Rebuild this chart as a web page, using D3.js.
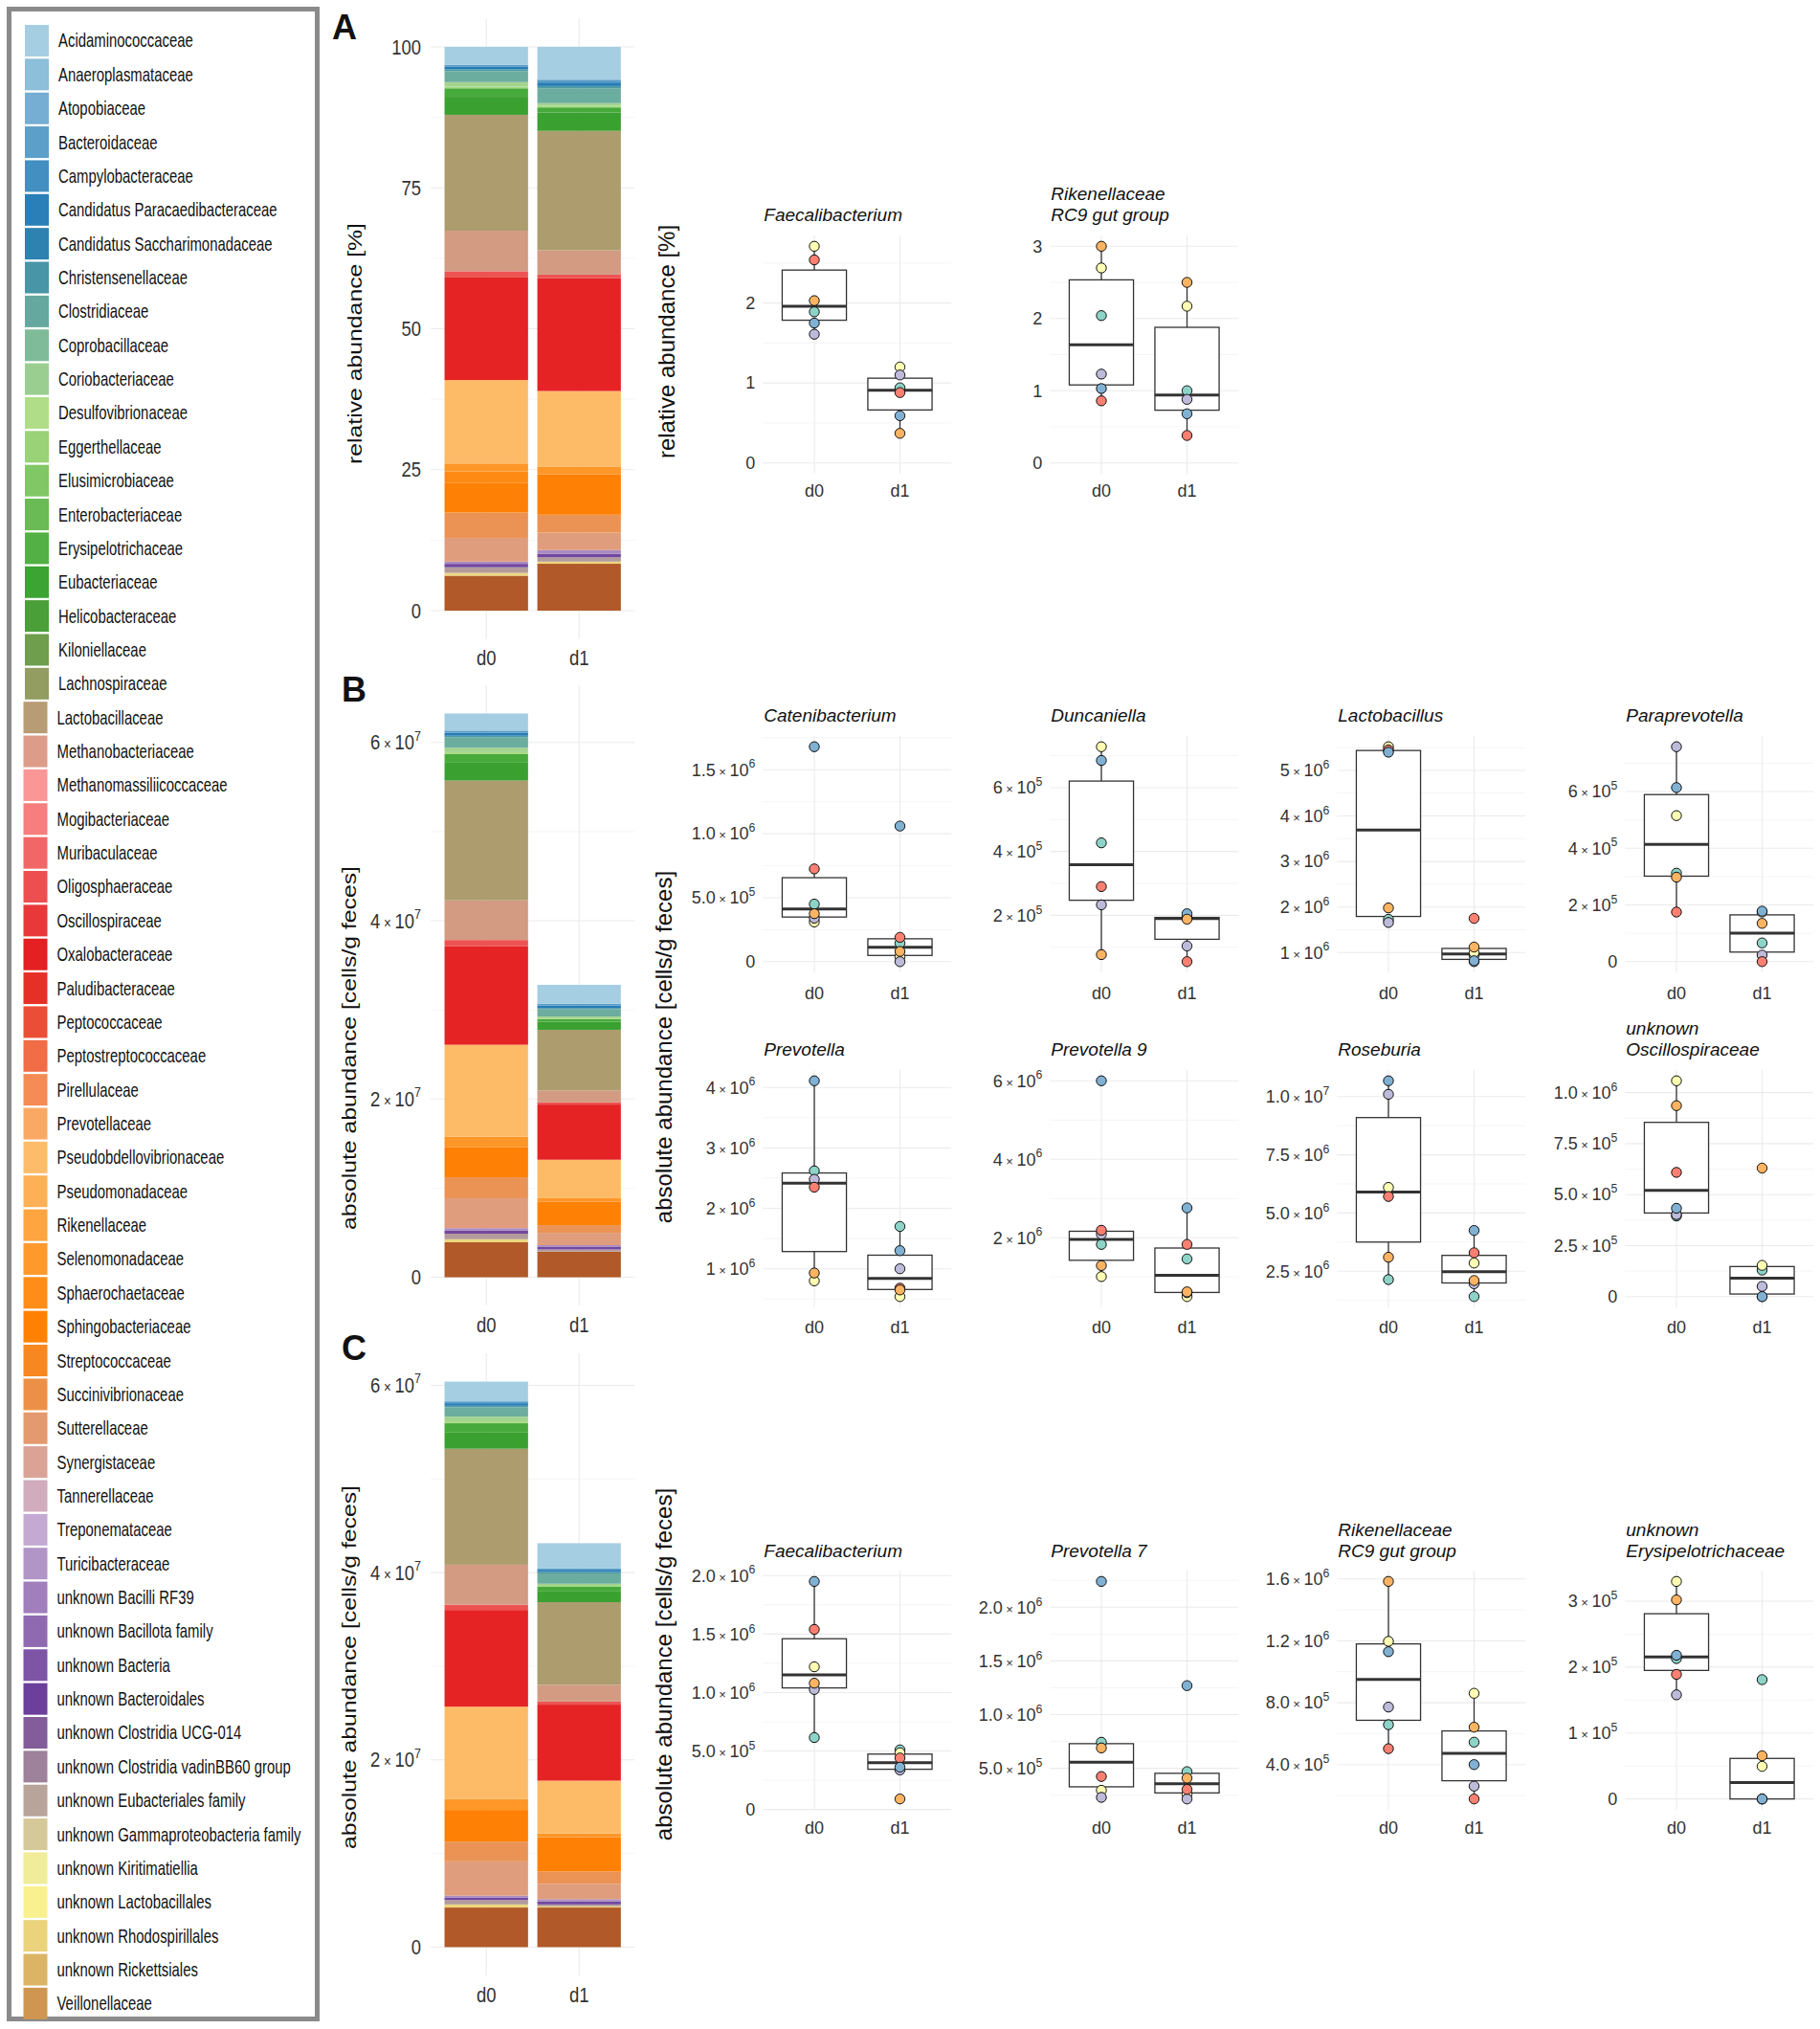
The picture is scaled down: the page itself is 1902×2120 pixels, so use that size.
<!DOCTYPE html>
<html><head><meta charset="utf-8">
<script src="https://cdn.jsdelivr.net/npm/d3@7/dist/d3.min.js"></script>
<style>body{margin:0;background:#fff}svg{display:block}</style>
</head><body>
<svg id="fig" width="1902" height="2120"></svg>
<script>
// ---------------- DATA ----------------
const families = ["Acidaminococcaceae","Anaeroplasmataceae","Atopobiaceae","Bacteroidaceae","Campylobacteraceae",
"Candidatus Paracaedibacteraceae","Candidatus Saccharimonadaceae","Christensenellaceae","Clostridiaceae","Coprobacillaceae",
"Coriobacteriaceae","Desulfovibrionaceae","Eggerthellaceae","Elusimicrobiaceae","Enterobacteriaceae",
"Erysipelotrichaceae","Eubacteriaceae","Helicobacteraceae","Kiloniellaceae","Lachnospiraceae",
"Lactobacillaceae","Methanobacteriaceae","Methanomassiliicoccaceae","Mogibacteriaceae","Muribaculaceae",
"Oligosphaeraceae","Oscillospiraceae","Oxalobacteraceae","Paludibacteraceae","Peptococcaceae",
"Peptostreptococcaceae","Pirellulaceae","Prevotellaceae","Pseudobdellovibrionaceae","Pseudomonadaceae",
"Rikenellaceae","Selenomonadaceae","Sphaerochaetaceae","Sphingobacteriaceae","Streptococcaceae",
"Succinivibrionaceae","Sutterellaceae","Synergistaceae","Tannerellaceae","Treponemataceae",
"Turicibacteraceae","unknown Bacilli RF39","unknown Bacillota family","unknown Bacteria","unknown Bacteroidales",
"unknown Clostridia UCG-014","unknown Clostridia vadinBB60 group","unknown Eubacteriales family","unknown Gammaproteobacteria family","unknown Kiritimatiellia",
"unknown Lactobacillales","unknown Rhodospirillales","unknown Rickettsiales","Veillonellaceae"];
const groups = ["d0","d1"];

// Panel A: relative abundance [%] per family (order = families)
const relAbund_d0 = [3.2,0,0,0.35,0,0.4,0,0.35,1.95,0, 0.8,0.3,0,0,0,1.5,3.2,0,0,20.55,
 7.2,0,0,0,1.0,0,18.3,0,0,0, 0,0,14.8,0,0,1.4,2.0,5.3,0,4.5,
 4.2,0,0,0,0.4,0,0,0.6,0,0, 1.0,0,0,0,0.5,0,0,0,6.2];
const relAbund_d1 = [5.82,0,0,0.5,0,0.63,0,0.4,2.63,0, 0.5,0.26,0,0,0,0.91,3.25,0,0,21.18,
 4.31,0,0,0,0.6,0,20.05,0,0,0, 0,0,13.39,0,0,1.36,0,7.19,0,3.18,
 3.1,0,0,0,0.68,0,0,0.6,0,0, 0.76,0,0,0,0.38,0,0,0,8.32];
// Panels B and C: absolute abundance, 10^6 cells/g feces per family
const absB_d0 = [1.92,0,0,0.26,0,0.32,0,0.2,1.14,0, 0.5,0.22,0,0,0,0.96,2.01,0,0,13.43,
 4.46,0,0,0,0.67,0,11.08,0,0,0, 0,0,10.31,0,0,1.2,0,3.36,0,2.35,
 3.36,0,0,0,0.26,0,0,0.36,0,0, 0.62,0,0,0,0.34,0,0,0,3.93];
const absB_d1 = [2.11,0,0,0.2,0,0.28,0,0.16,0.8,0, 0.2,0.09,0,0,0,0.3,0.9,0,0,6.81,
 1.34,0,0,0,0.24,0,6.19,0,0,0, 0,0,4.32,0,0,0.4,0,2.62,0,0.86,
 1.39,0,0,0,0.2,0,0,0.28,0,0, 0.24,0,0,0,0,0,0,0,2.88];
const absC_d0 = [2.11,0,0,0.2,0,0.27,0,0.17,1.0,0, 0.5,0.2,0,0,0,0.94,1.78,0,0,12.39,
 4.27,0,0,0,0.56,0,10.33,0,0,0, 0,0,9.86,0,0,1.17,0,3.38,0,2.11,
 3.66,0,0,0,0.2,0,0,0.27,0,0, 0.47,0,0,0,0.33,0,0,0,4.23];
const absC_d1 = [2.68,0,0,0.16,0,0.22,0,0.17,1.1,0, 0.23,0.1,0,0,0,0.5,1.14,0,0,8.83,
 1.78,0,0,0,0.33,0,8.12,0,0,0, 0,0,5.63,0,0,0.4,0,3.68,0,1.31,
 1.64,0,0,0,0.24,0,0,0.32,0,0, 0.2,0,0,0,0.13,0,0,0,4.23];
const relTicks = [0,25,50,75,100];
const absTicks = [0,2e7,4e7,6e7];

// Boxplots: one value per animal (animal order below)
const animals = ["animal 1","animal 2","animal 3","animal 4","animal 5","animal 6"];
const animalColors = ["#8DD3C7","#FFFFB3","#BEBADA","#FB8072","#80B1D3","#FDB462"];

const relFaecalibacterium_d0 = [1.89,2.71,1.61,2.54,1.75,2.03];
const relFaecalibacterium_d1 = [0.94,1.20,1.10,0.88,0.59,0.37];
const relRikenRC9_d0 = [2.04,2.70,1.23,0.86,1.03,3.00];
const relRikenRC9_d1 = [1.00,2.17,0.88,0.38,0.68,2.50];

const absCatenibacterium_d0 = [4.5e5,3.1e5,3.4e5,7.25e5,1.68e6,3.75e5];
const absCatenibacterium_d1 = [1.45e5,0.38e5,0,1.9e5,1.06e6,0.8e5];
const absDuncaniella_d0 = [4.27e5,7.28e5,2.33e5,2.9e5,6.85e5,0.77e5];
const absDuncaniella_d1 = [1.94e5,1.92e5,1.04e5,0.55e5,2.05e5,1.88e5];
const absLactobacillus_d0 = [1.73e6,5.52e6,1.66e6,5.45e6,5.40e6,1.98e6];
const absLactobacillus_d1 = [0.94e6,1.0e6,0.80e6,1.75e6,0.82e6,1.12e6];
const absParaprevotella_d0 = [3.12e5,5.15e5,7.58e5,1.75e5,6.14e5,2.98e5];
const absParaprevotella_d1 = [0.66e5,1.75e5,0.23e5,0,1.78e5,1.35e5];
const absPrevotella_d0 = [2.62e6,0.80e6,2.48e6,2.35e6,4.11e6,0.93e6];
const absPrevotella_d1 = [1.70e6,0.54e6,1.00e6,0.68e6,1.30e6,0.65e6];
const absPrevotella9_d0 = [1.83e6,1.01e6,2.09e6,2.19e6,6.0e6,1.29e6];
const absPrevotella9_d1 = [1.46e6,0.50e6,0.60e6,1.83e6,2.76e6,0.62e6];
const absRoseburia_d0 = [2.14e6,6.1e6,10.1e6,5.71e6,10.68e6,3.10e6];
const absRoseburia_d1 = [1.41e6,2.85e6,1.96e6,3.29e6,4.25e6,2.1e6];
const absUnkOscillo_d0 = [3.95e5,10.58e5,4.02e5,6.09e5,4.33e5,9.36e5];
const absUnkOscillo_d1 = [1.3e5,1.53e5,0.5e5,0,0,6.3e5];

const cFaecalibacterium_d0 = [6.15e5,12.2e5,10.26e5,15.4e5,19.5e5,10.8e5];
const cFaecalibacterium_d1 = [5.1e5,4.85e5,3.38e5,4.4e5,3.62e5,0.9e5];
const cPrevotella7_d0 = [7.43e5,2.96e5,2.3e5,4.24e5,22.4e5,6.9e5];
const cPrevotella7_d1 = [4.69e5,2.6e5,2.15e5,3.04e5,12.7e5,4.09e5];
const cRikenRC9_d0 = [6.58e5,11.97e5,7.72e5,5.03e5,11.3e5,15.84e5];
const cRikenRC9_d1 = [5.45e5,8.61e5,2.61e5,1.78e5,4.0e5,6.42e5];
const cUnkErysip_d0 = [2.13e5,3.30e5,1.58e5,1.89e5,2.18e5,3.02e5];
const cUnkErysip_d1 = [1.81e5,0.495e5,0,0,0,0.655e5];

const ticksA1 = [0,1,2], ticksA2 = [0,1,2,3];
const ticksCaten = [0,5e5,1e6,1.5e6], ticksDunc = [2e5,4e5,6e5], ticksLacto = [1e6,2e6,3e6,4e6,5e6], ticksPara = [0,2e5,4e5,6e5];
const ticksPrev = [1e6,2e6,3e6,4e6], ticksPrev9 = [2e6,4e6,6e6], ticksRose = [2.5e6,5e6,7.5e6,1e7], ticksOsc = [0,2.5e5,5e5,7.5e5,1e6];
const ticksCFaec = [0,5e5,1e6,1.5e6,2e6], ticksCPrev7 = [5e5,1e6,1.5e6,2e6], ticksCRik = [4e5,8e5,1.2e6,1.6e6], ticksCErys = [0,1e5,2e5,3e5];

// ---------------- DRAWING ----------------
const FONT = '"Liberation Sans", Arial, Helvetica, sans-serif';
const svg = d3.select("#fig").attr("font-family", FONT);
const ramp = d3.piecewise(d3.interpolateRgb, d3.schemePaired);
const barColor = d3.scaleOrdinal(families, d3.quantize(ramp, 59));
const legendColors = d3.quantize(ramp, 61).slice(0, 59);
const animalColor = d3.scaleOrdinal(animals, animalColors);

function addText(parent, x, y, str, o = {}) {
  let tr = `translate(${x},${y})`;
  if (o.rotate) tr += ` rotate(${o.rotate})`;
  if (o.sx || o.sy) tr += ` scale(${o.sx || 1},${o.sy || 1})`;
  const t = parent.append("text").attr("transform", tr)
    .attr("text-anchor", o.anchor || "start").attr("font-size", o.size || 16)
    .attr("fill", o.fill || "#000");
  if (o.weight) t.attr("font-weight", o.weight);
  if (o.style) t.attr("font-style", o.style);
  if (o.dy != null) t.attr("y", o.dy);
  if (str != null) t.text(str);
  return t;
}
function mantissa(v) { const e = Math.floor(Math.log10(v) + 1e-9); return [v / Math.pow(10, e), e]; }
function tickLabel(g, x, y, v, ticks, sci, size, sy) {
  const t = addText(g, x, y, null, {anchor: "end", size, fill: "#333", sy, dy: size * 0.35});
  if (!sci || v === 0) { t.text(String(v)); return; }
  const dec = ticks.some(tv => tv !== 0 && Math.abs(mantissa(tv)[0] - Math.round(mantissa(tv)[0])) > 1e-6) ? 1 : 0;
  const [m, e] = mantissa(v);
  t.append("tspan").text(m.toFixed(dec));
  t.append("tspan").attr("font-size", size * 0.72).text(" \u00d7 ");
  t.append("tspan").text("10");
  t.append("tspan").attr("font-size", size * 0.68).attr("dy", -size * 0.45).text(e);
}
function grid(g, x, y, ticks, left, right, top, bottom) {
  const dom = y.domain();
  const step = ticks.length > 1 ? ticks[1] - ticks[0] : 1;
  const minors = [];
  for (let v = ticks[0] - step / 2; v <= dom[1]; v += step) if (v >= dom[0]) minors.push(v);
  g.selectAll(null).data(minors).enter().append("line")
    .attr("x1", left).attr("x2", right).attr("y1", d => y(d)).attr("y2", d => y(d))
    .attr("stroke", "#f2f2f2").attr("stroke-width", 0.8);
  g.selectAll(null).data(ticks.filter(v => v >= dom[0] && v <= dom[1])).enter().append("line")
    .attr("x1", left).attr("x2", right).attr("y1", d => y(d)).attr("y2", d => y(d))
    .attr("stroke", "#ebebeb").attr("stroke-width", 1.1);
  g.selectAll(null).data(groups).enter().append("line")
    .attr("x1", d => x(d)).attr("x2", d => x(d)).attr("y1", top).attr("y2", bottom)
    .attr("stroke", "#ebebeb").attr("stroke-width", 1.1);
}

// ---- Legend ----
const lg = svg.append("g");
lg.append("rect").attr("x", 9.5).attr("y", 9.5).attr("width", 322).attr("height", 2100)
  .attr("fill", "#fff").attr("stroke", "#8a8a8a").attr("stroke-width", 5);
families.forEach((f, i) => {
  const cy = 42.5 + i * 35.36;
  const kx = i < 20 ? 26 : 24.5;
  lg.append("rect").attr("x", kx).attr("y", cy - 16.5).attr("width", 25).attr("height", 33).attr("fill", legendColors[i]);
  addText(lg, kx + 35, cy, f, {size: 14.9, sy: 1.34, dy: 14.9 * 0.35, fill: "#111"});
});

// ---- Stacked bars ----
function barPanel(cfg) {
  const g = svg.append("g");
  const totals = cfg.vals.map(v => d3.sum(v) * cfg.unit);
  const hi = d3.max(totals), pad = hi * 0.05;
  const y = d3.scaleLinear().domain([-pad, hi + pad]).range([cfg.bottom, cfg.top]);
  const x = d3.scalePoint().domain(groups).range([cfg.left, cfg.left + 213.4]).padding(0.6);
  grid(g, x, y, cfg.ticks, cfg.left, cfg.left + 213.4, cfg.top, cfg.bottom);
  const table = groups.map((gr, i) => { const r = {group: gr}; families.forEach((f, j) => r[f] = cfg.vals[i][j] * cfg.unit); return r; });
  const series = d3.stack().keys(families.slice().reverse())(table);
  const bw = x.step() * 0.9;
  g.selectAll(null).data(series).enter().append("g").attr("fill", d => barColor(d.key))
    .selectAll("rect").data(d => d).enter().append("rect")
    .attr("x", d => x(d.data.group) - bw / 2).attr("width", bw)
    .attr("y", d => y(d[1])).attr("height", d => Math.max(0, y(d[0]) - y(d[1])));
  cfg.ticks.forEach(v => tickLabel(g, cfg.left - 10, y(v), v, cfg.ticks, cfg.sci, 18.5, 1.18));
  groups.forEach(gr => addText(g, x(gr), cfg.bottom + 20, gr, {anchor: "middle", size: 18.5, sy: 1.18, dy: 18.5 * 0.35, fill: "#333"}));
  addText(g, cfg.titleX, cfg.titleY, cfg.ytitle, {anchor: "middle", rotate: -90, sx: 1.18, size: 21, dy: 21 * 0.35, fill: "#111"});
  addText(svg, cfg.letterX, cfg.letterY, cfg.letter, {size: 36, weight: "bold", fill: "#111"});
}
barPanel({vals: [relAbund_d0, relAbund_d1], unit: 1, ticks: relTicks, sci: false, left: 450, top: 19.5, bottom: 667.5,
  ytitle: "relative abundance [%]", titleX: 371, titleY: 359, letter: "A", letterX: 347, letterY: 41});
barPanel({vals: [absB_d0, absB_d1], unit: 1e6, ticks: absTicks, sci: true, left: 450, top: 716, bottom: 1364,
  ytitle: "absolute abundance [cells/g feces]", titleX: 365, titleY: 1095, letter: "B", letterX: 357, letterY: 733});
barPanel({vals: [absC_d0, absC_d1], unit: 1e6, ticks: absTicks, sci: true, left: 450, top: 1414, bottom: 2064,
  ytitle: "absolute abundance [cells/g feces]", titleX: 365, titleY: 1742, letter: "C", letterX: 357, letterY: 1421});

// ---- Boxplots ----
const boxRows = [
  {top: 246, bottom: 495, title: 231, xlab: 513},
  {top: 769, bottom: 1016, title: 754, xlab: 1038},
  {top: 1118, bottom: 1366, title: 1103, xlab: 1387},
  {top: 1641, bottom: 1891, title: 1627, xlab: 1910}];
const boxCols = [797.3, 1097.3, 1397.3, 1698.3];
const panels = [
  {row: 0, col: 0, title: ["Faecalibacterium"], d0: relFaecalibacterium_d0, d1: relFaecalibacterium_d1, ticks: ticksA1, sci: false, zero: true},
  {row: 0, col: 1, title: ["Rikenellaceae", "RC9 gut group"], d0: relRikenRC9_d0, d1: relRikenRC9_d1, ticks: ticksA2, sci: false, zero: true},
  {row: 1, col: 0, title: ["Catenibacterium"], d0: absCatenibacterium_d0, d1: absCatenibacterium_d1, ticks: ticksCaten, sci: true},
  {row: 1, col: 1, title: ["Duncaniella"], d0: absDuncaniella_d0, d1: absDuncaniella_d1, ticks: ticksDunc, sci: true},
  {row: 1, col: 2, title: ["Lactobacillus"], d0: absLactobacillus_d0, d1: absLactobacillus_d1, ticks: ticksLacto, sci: true},
  {row: 1, col: 3, title: ["Paraprevotella"], d0: absParaprevotella_d0, d1: absParaprevotella_d1, ticks: ticksPara, sci: true},
  {row: 2, col: 0, title: ["Prevotella"], d0: absPrevotella_d0, d1: absPrevotella_d1, ticks: ticksPrev, sci: true},
  {row: 2, col: 1, title: ["Prevotella 9"], d0: absPrevotella9_d0, d1: absPrevotella9_d1, ticks: ticksPrev9, sci: true},
  {row: 2, col: 2, title: ["Roseburia"], d0: absRoseburia_d0, d1: absRoseburia_d1, ticks: ticksRose, sci: true},
  {row: 2, col: 3, title: ["unknown", "Oscillospiraceae"], d0: absUnkOscillo_d0, d1: absUnkOscillo_d1, ticks: ticksOsc, sci: true},
  {row: 3, col: 0, title: ["Faecalibacterium"], d0: cFaecalibacterium_d0, d1: cFaecalibacterium_d1, ticks: ticksCFaec, sci: true},
  {row: 3, col: 1, title: ["Prevotella 7"], d0: cPrevotella7_d0, d1: cPrevotella7_d1, ticks: ticksCPrev7, sci: true},
  {row: 3, col: 2, title: ["Rikenellaceae", "RC9 gut group"], d0: cRikenRC9_d0, d1: cRikenRC9_d1, ticks: ticksCRik, sci: true},
  {row: 3, col: 3, title: ["unknown", "Erysipelotrichaceae"], d0: cUnkErysip_d0, d1: cUnkErysip_d1, ticks: ticksCErys, sci: true}];

function boxPanel(p) {
  const r = boxRows[p.row], left = boxCols[p.col], width = 196.9;
  const g = svg.append("g");
  const all = p.d0.concat(p.d1);
  let lo = d3.min(all), hi = d3.max(all);
  if (p.zero) lo = Math.min(lo, 0);
  const pad = (hi - lo) * 0.05;
  const y = d3.scaleLinear().domain([lo - pad, hi + pad]).range([r.bottom, r.top]);
  const x = d3.scalePoint().domain(groups).range([left, left + width]).padding(0.6);
  grid(g, x, y, p.ticks, left, left + width, r.top, r.bottom);
  const bw = x.step() * 0.75;
  [p.d0, p.d1].forEach((vals, i) => {
    const cx = x(groups[i]);
    const s = vals.slice().sort(d3.ascending);
    const q1 = d3.quantile(s, 0.25), med = d3.quantile(s, 0.5), q3 = d3.quantile(s, 0.75), iqr = q3 - q1;
    const wLo = d3.min(s.filter(v => v >= q1 - 1.5 * iqr)), wHi = d3.max(s.filter(v => v <= q3 + 1.5 * iqr));
    g.append("line").attr("x1", cx).attr("x2", cx).attr("y1", y(q3)).attr("y2", y(wHi)).attr("stroke", "#333").attr("stroke-width", 1.3);
    g.append("line").attr("x1", cx).attr("x2", cx).attr("y1", y(q1)).attr("y2", y(wLo)).attr("stroke", "#333").attr("stroke-width", 1.3);
    g.append("rect").attr("x", cx - bw / 2).attr("width", bw).attr("y", y(q3)).attr("height", y(q1) - y(q3))
      .attr("fill", "#fff").attr("stroke", "#333").attr("stroke-width", 1.3);
    g.append("line").attr("x1", cx - bw / 2).attr("x2", cx + bw / 2).attr("y1", y(med)).attr("y2", y(med)).attr("stroke", "#333").attr("stroke-width", 3);
    g.selectAll(null).data(vals.map((v, k) => ({v, a: animals[k]}))).enter().append("circle")
      .attr("cx", cx).attr("cy", d => y(d.v)).attr("r", 5.2)
      .attr("fill", d => animalColor(d.a)).attr("stroke", "#111").attr("stroke-width", 1);
  });
  p.ticks.forEach(v => tickLabel(g, left - 8, y(v), v, p.ticks, p.sci, 18, 1));
  groups.forEach(gr => addText(g, x(gr), r.xlab, gr, {anchor: "middle", size: 18, dy: 18 * 0.35, fill: "#333"}));
  p.title.forEach((line, k) => addText(g, left + 1, r.title - (p.title.length - 1 - k) * 22, line, {size: 19, style: "italic", fill: "#111"}));
}
panels.forEach(boxPanel);

// y titles for boxplot blocks
addText(svg, 697, 357, "relative abundance [%]", {anchor: "middle", rotate: -90, size: 24, dy: 24 * 0.35, fill: "#111"});
addText(svg, 694, 1094, "absolute abundance [cells/g feces]", {anchor: "middle", rotate: -90, size: 24, dy: 24 * 0.35, fill: "#111"});
addText(svg, 694, 1739, "absolute abundance [cells/g feces]", {anchor: "middle", rotate: -90, size: 24, dy: 24 * 0.35, fill: "#111"});
</script>
</body></html>
